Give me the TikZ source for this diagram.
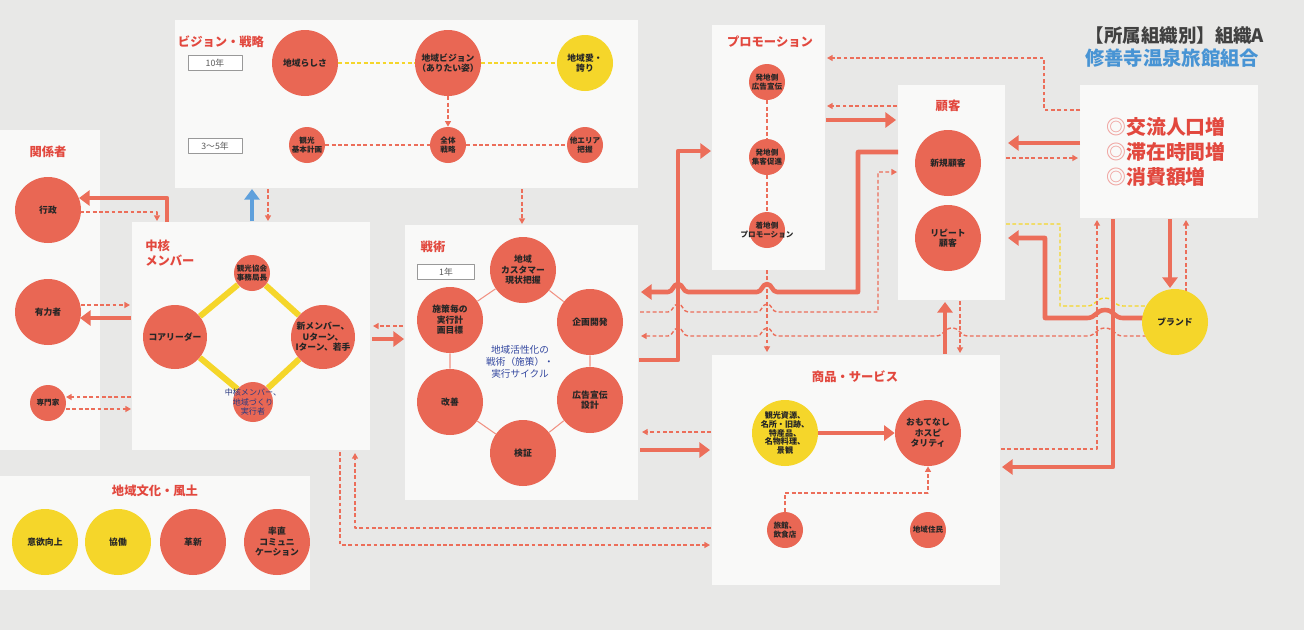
\documentclass[tikz,border=0pt]{standalone}
\usepackage{fontspec}
\setmainfont{Noto Sans CJK JP}
\usetikzlibrary{arrows.meta}

\definecolor{bgc}{RGB}{232,232,231}
\definecolor{panelc}{RGB}{249,249,248}
\definecolor{circc}{RGB}{233,103,84}
\definecolor{ylwc}{RGB}{245,214,42}
\definecolor{linec}{RGB}{236,110,90}
\definecolor{titlec}{RGB}{226,72,62}
\definecolor{headc}{RGB}{72,148,212}
\definecolor{bluec}{RGB}{95,160,220}
\definecolor{cyclec}{RGB}{52,72,160}

% hop of a horizontal line over a crossing one (written left to right)
\newcommand\jumpover[3]{-- ({#1-#3},#2) .. controls ({#1-#3/2},#2) and ({#1-#3/2},{#2-8}) .. (#1,{#2-8}) .. controls ({#1+#3/2},{#2-8}) and ({#1+#3/2},#2) .. ({#1+#3},#2)}

\tikzset{
  panel/.style={fill=panelc},
  rc/.style={circle,fill=circc,inner sep=0pt,minimum size=#1},
  rc/.default=1.32cm,
  yc/.style={rc=#1,fill=ylwc},
  yc/.default=1.32cm,
  txt/.style={label={[align=center,text=black!85,font=\fontsize{5}{6}\selectfont\bfseries]center:{#1}}},
  stxt/.style={label={[align=center,text=black!85,font=\fontsize{4.3}{5.2}\selectfont\bfseries]center:{#1}}},
  ttl/.style={text=titlec,font=\fontsize{7}{8.5}\selectfont\bfseries,align=left,inner sep=0pt},
  yearbox/.style={draw=black!40,fill=white,text=black!65,font=\fontsize{5}{6}\selectfont,
    minimum width=1.08cm,minimum height=0.3cm,inner sep=0pt},
  conn/.style={draw=linec,line width=2.6pt,>={Triangle[length=6pt,width=8.5pt]}},
  bconn/.style={conn,draw=bluec},
  dconn/.style={draw=linec,line width=0.8pt,dash pattern=on 2.2pt off 1.4pt,
    >={Triangle[length=3.2pt,width=3.4pt]}},
  ydconn/.style={dconn,draw=ylwc},
  cyc/.style={draw=linec!75,line width=0.6pt},
}

\begin{document}
\begin{tikzpicture}[x=0.02cm,y=-0.02cm,line join=round]
  \useasboundingbox (0,0) rectangle (1304,630);
  \fill[bgc] (0,0) rectangle (1304,630);

  % panels
  \fill[panel] (175,20) rectangle (638,188);
  \fill[panel] (0,130) rectangle (100,450);
  \fill[panel] (132,222) rectangle (370,450);
  \fill[panel] (405,225) rectangle (638,500);
  \fill[panel] (712,25) rectangle (825,270);
  \fill[panel] (898,85) rectangle (1005,300);
  \fill[panel] (1080,85) rectangle (1258,218);
  \fill[panel] (712,355) rectangle (1000,585);
  \fill[panel] (0,476) rectangle (310,590);

  % titles
  \node[ttl] (tvis) at (221,42) {ビジョン・戦略};
  \node[ttl] (trel) at (48,152) {関係者};
  \node[ttl,anchor=north west] (tcore) at (145,240) {中核\\メンバー};
  \node[ttl] (ttac) at (433,247) {戦術};
  \node[ttl] (tpro) at (770,42) {プロモーション};
  \node[ttl] (tcus) at (948,106) {顧客};
  \node[ttl] (tprod) at (855,377) {商品・サービス};
  \node[ttl] (tcult) at (155,491) {地域文化・風土};
  \node[yearbox] (y10) at (215,63) {10年};
  \node[yearbox] (y35) at (215,146) {3〜5年};
  \node[yearbox,minimum width=1.14cm] (y1) at (446,272) {1年};

  \node[text=black!75,font=\fontsize{10.5}{12}\selectfont\bfseries] (org) at (1175,36) {【所属組織別】組織A};
  \node[text=headc,font=\fontsize{11}{13}\selectfont\bfseries] (orgname) at (1172,58) {修善寺温泉旅館組合};
  \node[text=titlec,font=\fontsize{11.3}{14.2}\selectfont\bfseries,align=left] (goal) at (1166,152)
    {\textcolor{titlec!50}{◎}交流人口増\\\textcolor{titlec!50}{◎}滞在時間増\\\textcolor{titlec!50}{◎}消費額増};

  % connectors
  \draw[conn,->] (167,222) |- (79,198);
  \draw[dconn,->] (80,212) -| (157,221);
  \draw[dconn,->] (81,305) -- (130,305);
  \draw[conn,->] (131,318) -- (80,318);
  \draw[dconn,->] (131,397) -- (66,397);
  \draw[dconn,->] (66,409) -- (131,409);
  \draw[bconn,->] (252,221) -- (252,189);
  \draw[dconn,->] (268,189) -- (268,221);
  \draw[dconn,->] (522,189) -- (522,224);
  \draw[dconn,->] (403,326) -- (373,326);
  \draw[conn,->] (372,339) -- (404,339);

  \draw[conn,->] (639,360) -- (678,360) -- (678,151) -- (711,151);
  \draw[conn,<-] (641,292) \jumpover{678}{292}{10} \jumpover{767}{292}{10} -- (858,292) -- (858,152) -- (898,152);
  \draw[dconn,->] (640,312) \jumpover{678}{312}{10} \jumpover{767}{312}{10} -- (878,312) -- (878,172) -- (897,172);
  \draw[dconn,<-] (641,336) \jumpover{678}{336}{10} \jumpover{767}{336}{10} \jumpover{952}{336}{16} \jumpover{1105}{336}{18} -- (1146,336);
  \draw[dconn,->] (767,270) -- (767,352);

  \draw[dconn,->] (1080,110) -- (1044,110) -- (1044,58) -- (827,58);
  \draw[dconn,->] (897,106) -- (827,106);
  \draw[conn,->] (826,120) -- (896,120);
  \draw[conn,->] (1080,143) -- (1008,143);
  \draw[dconn,->] (1006,158) -- (1078,158);

  \draw[ydconn] (1006,224) -- (1060,224) -- (1060,306) \jumpover{1105}{306}{18} -- (1150,306);
  \draw[conn,<-] (1008,238) -- (1045,238) -- (1045,318) \jumpover{1105}{318}{18} -- (1150,318);
  \draw[conn,->] (1170,219) -- (1170,288);
  \draw[dconn,->] (1186,292) -- (1186,220);
  \draw[conn,->] (1113,219) -- (1113,467) -- (1002,467);
  \draw[dconn,->] (1001,449) -- (1097,449) -- (1097,220);
  \draw[conn,->] (945,354) -- (945,302);
  \draw[dconn,->] (960,301) -- (960,353);

  \draw[dconn,->] (711,432) -- (642,432);
  \draw[conn,->] (640,450) -- (710,450);
  \draw[dconn,->] (340,452) |- (710,545);
  \draw[dconn,->] (711,528) -| (355,453);

  % vision / strategy
  \node[rc,txt={地域らしさ}] (uniq) at (305,63) {};
  \node[rc,txt={地域ビジョン\\（ありたい姿）}] (vision) at (448,63) {};
  \node[yc=1.12cm,txt={地域愛・\\誇り}] (pride) at (585,63) {};
  \node[rc=0.72cm,stxt={観光\\基本計画}] (plan) at (307,145) {};
  \node[rc=0.72cm,stxt={全体\\戦略}] (whole) at (448,145) {};
  \node[rc=0.72cm,stxt={他エリア\\把握}] (area) at (585,145) {};
  \draw[ydconn] (uniq) -- (vision) -- (pride);
  \draw[dconn] (plan) -- (whole) -- (area);
  \draw[dconn,->] (vision) -- (whole);

  % stakeholders
  \node[rc,txt={行政}] (gyosei) at (48,210) {};
  \node[rc,txt={有力者}] (yuryoku) at (48,312) {};
  \node[rc=0.72cm,stxt={専門家}] (senmon) at (48,403) {};

  % core members
  \node[rc=0.72cm] (kyokai) at (252,273) {};
  \node[rc=1.28cm] (leader) at (175,337) {};
  \node[rc=1.28cm] (newmem) at (323,337) {};
  \node[rc=0.8cm] (jikko) at (253,402) {};
  \draw[ylwc,line width=3.4pt] (kyokai) -- (newmem) -- (jikko) -- (leader) -- (kyokai);
  \node[align=center,text=black!85,font=\fontsize{4.3}{5.2}\selectfont\bfseries] at (kyokai) {観光協会\\事務局長};
  \node[align=center,text=black!85,font=\fontsize{5}{6}\selectfont\bfseries] at (leader) {コアリーダー};
  \node[align=center,text=black!85,font=\fontsize{5}{6}\selectfont\bfseries] at (newmem) {新メンバー、\\Uターン、\\Iターン、若手};
  \node[align=center,text=cyclec!80!black,font=\fontsize{4.6}{5.6}\selectfont] (jikkotxt) at (jikko) {中核メンバー、\\地域づくり\\実行者};

  % tactics cycle
  \node[rc,txt={地域\\カスタマー\\現状把握}] (t1) at (523,270) {};
  \node[rc,txt={企画開発}] (t2) at (590,322) {};
  \node[rc,txt={広告宣伝\\設計}] (t3) at (590,400) {};
  \node[rc,txt={検証}] (t4) at (523,453) {};
  \node[rc,txt={改善}] (t5) at (450,402) {};
  \node[rc,txt={施策毎の\\実行計\\画目標}] (t6) at (450,320) {};
  \draw[cyc] (t1) -- (t2) -- (t3) -- (t4) -- (t5) -- (t6) -- (t1);
  \node[text=cyclec,align=center,font=\fontsize{5.5}{7}\selectfont] (cycle) at (520,362) {地域活性化の\\戦術（施策）・\\実行サイクル};

  % promotion
  \node[rc=0.72cm,stxt={発地側\\広告宣伝}] (p1) at (767,82) {};
  \node[rc=0.72cm,stxt={発地側\\集客促進}] (p2) at (767,157) {};
  \node[rc=0.72cm,stxt={着地側\\プロモーション}] (p3) at (767,230) {};
  \draw[dconn] (p1) -- (p2) -- (p3);

  % customers, brand
  \node[rc,txt={新規顧客}] (newc) at (948,163) {};
  \node[rc,txt={リピート\\顧客}] (repc) at (948,238) {};
  \node[yc,txt={ブランド}] (brand) at (1175,322) {};

  % products / services
  \node[yc,label={[align=center,text=black!85,font=\fontsize{4.6}{4.9}\selectfont\bfseries]center:{観光資源、\\名所・旧跡、\\特産品、\\名物料理、\\景観}}] (res) at (785,433) {};
  \node[rc,txt={おもてなし\\ホスピ\\タリティ}] (omot) at (928,433) {};
  \node[rc=0.72cm,stxt={旅館、\\飲食店}] (ryokan) at (785,530) {};
  \node[rc=0.72cm,stxt={地域住民}] (jumin) at (928,530) {};
  \draw[conn,->] (res) -- (omot);
  \draw[dconn,->] (ryokan.north) |- (860,493) -| (omot.south);

  % local culture
  \node[yc,txt={意欲向上}] (ikuyoku) at (45,542) {};
  \node[yc,txt={協働}] (kyodo) at (118,542) {};
  \node[rc,txt={革新}] (kakushin) at (193,542) {};
  \node[rc,txt={率直\\コミュニ\\ケーション}] (sotchoku) at (277,542) {};
\end{tikzpicture}
\end{document}
